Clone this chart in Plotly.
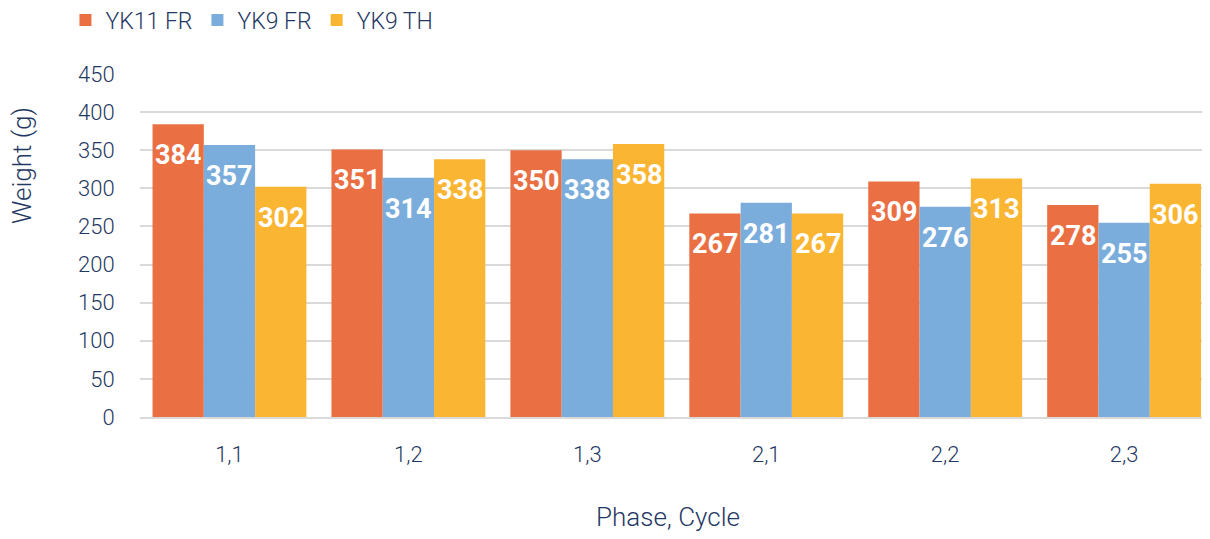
import plotly.graph_objects as go

categories = ["1,1", "1,2", "1,3", "2,1", "2,2", "2,3"]
series_names = ["YK11 FR", "YK9 FR", "YK9 TH"]
yk11_fr = [384, 351, 350, 267, 309, 278]
yk9_fr = [357, 314, 338, 281, 276, 255]
yk9_th = [302, 338, 358, 267, 313, 306]
y_ticks = [0, 50, 100, 150, 200, 250, 300, 350, 400, 450]

colors = ["#EA7043", "#7AADDB", "#FAB533"]
navy = "#1F3864"
font_family = "Roboto, DejaVu Sans, sans-serif"

fig = go.Figure()
all_series = [yk11_fr, yk9_fr, yk9_th]
for name, vals, col in zip(series_names, all_series, colors):
    fig.add_trace(go.Bar(
        x=categories, y=vals, name=name,
        marker=dict(color=col, line=dict(width=0)),
    ))

# data labels as annotations, placed inside bar tops
bar_px = 51.3
for i, vals in enumerate(all_series):
    for c, v in zip(categories, vals):
        fig.add_annotation(
            x=c, y=v, xref="x", yref="y",
            text="<b>%d</b>" % v, showarrow=False,
            yanchor="top", xanchor="center",
            xshift=(i - 1) * bar_px, yshift=-13,
            font=dict(family=font_family, size=27, color="white"),
        )

# axis titles (placed like the reference)
fig.add_annotation(
    text="Weight (g)", xref="paper", yref="paper",
    x=-0.1103, y=0.7347, xanchor="center", yanchor="middle",
    textangle=-90, showarrow=False,
    font=dict(family=font_family, size=26, color=navy, weight=300),
)
fig.add_annotation(
    text="Phase, Cycle", xref="paper", yref="paper",
    x=0.4935, y=-0.2915, xanchor="center", yanchor="middle",
    showarrow=False,
    font=dict(family=font_family, size=26, color=navy, weight=300),
)

fig.update_layout(
    width=1202, height=531,
    paper_bgcolor="white", plot_bgcolor="white",
    barmode="group", bargap=0.14, bargroupgap=0,
    margin=dict(l=132, r=0, t=66, b=122),
    font=dict(family=font_family, color=navy, size=22, weight=300),
    showlegend=True,
    legend=dict(
        orientation="h", xref="container", yref="container",
        x=0.0478, y=0.9774, xanchor="left", yanchor="middle",
        font=dict(size=23, color=navy, weight=300),
        traceorder="normal",
        bgcolor="rgba(0,0,0,0)",
    ),
    xaxis=dict(
        type="category", range=[-0.5, 5.48], automargin=False,
        showgrid=False, zeroline=False,
        showline=True, linecolor="#D9D9D9", linewidth=1.5,
        ticks="outside", ticklen=17, tickcolor="rgba(0,0,0,0)",
        tickfont=dict(size=22, color=navy, weight=300),
    ),
    yaxis=dict(
        range=[0, 450], tickvals=y_ticks, automargin=False,
        showgrid=True, gridcolor="#D9D9D9", gridwidth=1.5,
        zeroline=False, showline=False,
        ticks="outside", ticklen=20, tickcolor="rgba(0,0,0,0)",
        tickfont=dict(size=22, color=navy, weight=300),
    ),
)

fig.write_html("out.html")
